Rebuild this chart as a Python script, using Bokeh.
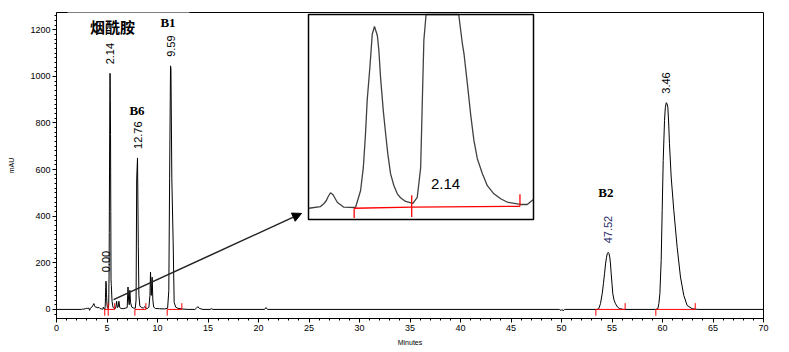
import numpy as np
from bokeh.plotting import figure
from bokeh.models import (Range1d, Label, Arrow, NormalHead, BoxAnnotation,
                          FixedTicker)
from bokeh.core.properties import value
from bokeh.embed import file_html
from bokeh.resources import INLINE

# ---------------- data ----------------
time_min = [0.0, 2.5, 2.6, 2.7, 2.85, 3.0, 3.1, 3.2, 3.28, 3.35, 3.5, 3.62, 3.7, 3.78, 3.9,
            4.0, 4.1, 4.2, 4.3, 4.45,
            4.512, 4.581, 4.600, 4.615, 4.625, 4.640, 4.655, 4.665, 4.680, 4.719, 4.788,
            4.818, 4.834, 4.847, 4.857, 4.873, 4.887, 4.900, 4.917, 4.926, 4.936, 4.952,
            4.966, 4.979, 4.995, 5.015, 5.035, 5.054, 5.084, 5.127, 5.153, 5.173,
            5.183, 5.192, 5.205, 5.225, 5.25, 5.28, 5.30, 5.32, 5.35, 5.375, 5.398, 5.419,
            5.429, 5.449, 5.469, 5.488, 5.508, 5.538, 5.567, 5.606, 5.646, 5.686, 5.764,
            5.803, 5.837,
            5.9, 5.95, 6.02, 6.1, 6.18, 6.26, 6.4, 6.6, 6.8, 7.0, 7.08, 7.14, 7.2, 7.26,
            7.33, 7.45, 7.6, 7.8, 7.88, 7.94, 8.02, 8.1, 8.16, 8.25, 8.4, 8.6, 8.75, 8.85,
            9.0, 9.15, 9.25, 9.31, 9.38, 9.47, 9.54, 9.62, 9.8, 10.2, 10.7, 11.0, 11.12,
            11.2, 11.29, 11.33, 11.42, 11.55, 11.65, 11.8, 12.0, 12.4, 13.0, 13.7, 13.85,
            14.0, 14.15, 14.5, 15.2, 15.35, 15.5, 20.6, 20.75, 20.9, 49.8, 49.95, 50.05,
            50.15, 50.3, 53.5, 53.69, 53.86, 54.03, 54.15, 54.26, 54.36, 54.46, 54.54,
            54.62, 54.70, 54.78, 54.85, 54.92, 55.0, 55.08, 55.2, 55.35, 55.55, 55.77,
            56.17, 59.3, 59.54, 59.64, 59.74, 59.87, 59.97, 60.07, 60.2, 60.28, 60.37,
            60.45, 60.53, 60.61, 60.69, 60.86, 61.12, 61.45, 61.78, 62.11, 62.44, 62.94,
            63.5, 70.0]
signal_mau = [0, 0, 2, 1, 3, 5, 4, 6, -4, 5, 10, 18, 25, 15, 8,
              10, 6, 9, 4, 2,
              0, 1.1, 3, 5, 7.5, 10.3, 9, 7, 4, 0.7, 0.5,
              11.8, 27, 49.6, 72, 94, 116, 121, 115, 105, 87, 65,
              49.6, 36, 23, 15, 9.6, 7, 4.5, 3.3, 7.3, 27,
              72, 112, 140, 330, 590, 900, 1013, 960, 750, 420, 130, 110,
              103, 83, 62, 45, 33, 23, 15, 9.6, 6.3, 4, 2.5,
              2.5, 5.6,
              15, 35, 8, 10, 35, 8, 4, 3, 5, 8, 96, 40, 20, 82,
              30, 10, 6, 5, 40, 560, 650, 270, 60, 15, 8, 6, 12, 5,
              4, 10, 60, 160, 60, 138, 40, 10, 4, 3, 2, 5, 80,
              560, 1045, 1035, 560, 290, 30, 10, 5, 2, 0, 0, 5,
              12, 4, 0, 0, 3, 0, 0, 8, 0, 0, -5, 0,
              -6, 0, 0, 3, 25, 67, 110, 153, 195, 224, 240,
              245, 240, 224, 195, 153, 110, 67, 40, 24, 10, 3,
              0, 0, 3, 25, 67, 210, 425, 639, 811, 865, 887,
              882, 868, 800, 711, 568, 425, 267, 139, 60, 17, 3,
              0, 0]

# peak annotations (retention time, apex height, printed value)
peak_rt = [4.90, 5.30, 8.02, 11.29, 54.62, 60.37]
peak_height = [121, 1013, 650, 1045, 245, 887]
peak_label = ["0.00", "2.14", "12.76", "9.59", "47.52", "3.46"]
peak_label_color = ["#000000", "#000000", "#000000", "#000000", "#2a2a6a", "#000000"]

# integration events (start/end of each integrated peak, baseline level)
int_start = [4.78, 5.12, 7.76, 10.96, 53.40, 59.34]
int_end = [5.12, 5.76, 8.85, 12.41, 56.30, 63.24]
int_base_start = [0.0, 0.7, 0.0, 0.0, 0.0, 0.0]
int_base_end = [0.7, 1.3, 0.0, 0.0, 0.0, 0.0]

x_ticks = list(range(0, 71, 5))
y_ticks = [0, 200, 400, 600, 800, 1000, 1200]

# ---------------- figure ----------------
FL, FR, FT, FB = 56, 763, 12, 318     # frame edges in canvas px
W, H = 789, 352
p = figure(width=W, height=H, x_range=Range1d(0, 70), y_range=Range1d(-39, 1274),
           output_backend="svg", toolbar_location=None,
           min_border_left=FL, min_border_right=W - FR,
           min_border_top=FT, min_border_bottom=H - FB)
p.grid.visible = False
p.background_fill_color = "white"
p.border_fill_color = "white"
p.outline_line_color = "black"
p.outline_line_width = 1

font = "Liberation Sans"
p.xaxis.ticker = FixedTicker(ticks=x_ticks, minor_ticks=list(range(0, 71)))
p.yaxis.ticker = FixedTicker(ticks=y_ticks, minor_ticks=list(range(-20, 1274, 20)))
for ax in (p.xaxis, p.yaxis):
    ax.axis_line_color = "black"
    ax.major_tick_line_color = "black"
    ax.minor_tick_line_color = "black"
    ax.major_tick_in = 0
    ax.minor_tick_in = 0
    ax.major_tick_out = 4
    ax.minor_tick_out = 2
    ax.major_label_text_font = font
    ax.major_label_text_font_size = "9px"
    ax.major_label_text_color = "black"
    ax.axis_label_text_font = font
    ax.axis_label_text_font_size = "7px"
    ax.axis_label_text_font_style = "normal"
    ax.axis_label_text_color = "black"
p.xaxis.axis_label = "Minutes"
p.yaxis.axis_label = "mAU"
p.xaxis.major_label_standoff = 2
p.yaxis.major_label_standoff = 2
p.xaxis.axis_label_standoff = 5
p.yaxis.axis_label_standoff = 12

# gap in the top frame line (masked by the title block)
p.add_layout(BoxAnnotation(left=(67 - FL) / 10.1, right=(189 - FL) / 10.1,
                           bottom=1262, top=1300, fill_color="white", fill_alpha=1.0,
                           line_color=None, level="overlay"))

# main trace
p.line(time_min, signal_mau, line_color="black", line_width=1)

# integration marks
tick_main = 27
p.segment(x0=int_start, y0=[0] * len(int_start), x1=int_end, y1=[0] * len(int_end),
          line_color="red", line_width=1)
p.segment(x0=int_start, y0=[0] * len(int_start), x1=int_start,
          y1=[-tick_main] * len(int_start), line_color="red", line_width=1)
p.segment(x0=int_end, y0=[0] * len(int_end), x1=int_end,
          y1=[tick_main] * len(int_end), line_color="red", line_width=1)

# peak value labels
p.text(x=peak_rt, y=peak_height, text=peak_label, angle=np.pi / 2,
       text_align="left", text_baseline="middle", y_offset=-9,
       text_font=value("Liberation Sans"), text_font_size="11px",
       text_color=peak_label_color)

# compound names
for txt, xx, yy, fnt, sz in [("烟酰胺", 5.55, 1214, "Noto Sans CJK SC", "15px"),
                             ("B1", 11.04, 1231, "Liberation Serif", "13px"),
                             ("B6", 7.97, 855, "Liberation Serif", "13px"),
                             ("B2", 54.4, 501, "Liberation Serif", "13px")]:
    p.add_layout(Label(x=xx, y=yy, text=txt, text_font=fnt, text_font_size=sz,
                       text_font_style="bold", text_align="center",
                       text_baseline="middle", text_color="black"))

# ---------------- inset (zoom of the first peaks) ----------------
win_l, win_r, win_b, win_t = 4.51, 5.84, -7.5, 129.0       # data window shown
box_l, box_r, box_t, box_b = 308, 533, 14, 219             # canvas px of inset box
sx = (box_r - box_l) / (win_r - win_l)
sy = (box_b - box_t) / (win_t - win_b)
p.extra_x_ranges = {"inset": Range1d(win_l - (box_l - FL) / sx, win_r + (FR - box_r) / sx)}
p.extra_y_ranges = {"inset": Range1d(win_b - (FB - box_b) / sy, win_t + (box_t - FT) / sy)}

t_arr = np.array(time_min)
v_arr = np.array(signal_mau, dtype=float)
m = (t_arr >= win_l) & (t_arr <= win_r)
p.quad(left=[win_l], right=[win_r], bottom=[win_b], top=[win_t],
       x_range_name="inset", y_range_name="inset",
       fill_color="white", line_color=None)
p.line(t_arr[m], np.minimum(v_arr[m], win_t), x_range_name="inset", y_range_name="inset",
       line_color="#404040", line_width=1.3)
ins = [i for i in range(len(int_start)) if int_end[i] <= win_r]
p.segment(x0=[int_start[i] for i in ins], y0=[int_base_start[i] for i in ins],
          x1=[int_end[i] for i in ins], y1=[int_base_end[i] for i in ins],
          x_range_name="inset", y_range_name="inset", line_color="red", line_width=1.3)
p.segment(x0=[int_start[i] for i in ins], y0=[int_base_start[i] for i in ins],
          x1=[int_start[i] for i in ins], y1=[int_base_start[i] - 6.5 for i in ins],
          x_range_name="inset", y_range_name="inset", line_color="red", line_width=1.3)
p.segment(x0=[int_end[i] for i in ins], y0=[int_base_end[i] for i in ins],
          x1=[int_end[i] for i in ins], y1=[int_base_end[i] + 8 for i in ins],
          x_range_name="inset", y_range_name="inset", line_color="red", line_width=1.3)
p.quad(left=[win_l], right=[win_r], bottom=[win_b], top=[win_t],
       x_range_name="inset", y_range_name="inset",
       fill_color=None, line_color="black", line_width=1.5)
p.add_layout(Label(x=peak_rt[1] + 0.02, y=16, text=peak_label[1],
                   x_range_name="inset", y_range_name="inset",
                   text_font="Liberation Sans", text_font_size="15px",
                   text_align="center", text_baseline="middle", text_color="black"))

# arrow from the peak cluster to the inset
p.add_layout(Arrow(end=NormalHead(size=9, fill_color="black", line_color="black"),
                   x_start=5.65, y_start=42,
                   x_end=(301 - FL) / 10.1, y_end=(309 - 213) / 0.2331,
                   line_color="#222222", line_width=1.5))

open("out.html", "w").write(file_html(p, INLINE))
